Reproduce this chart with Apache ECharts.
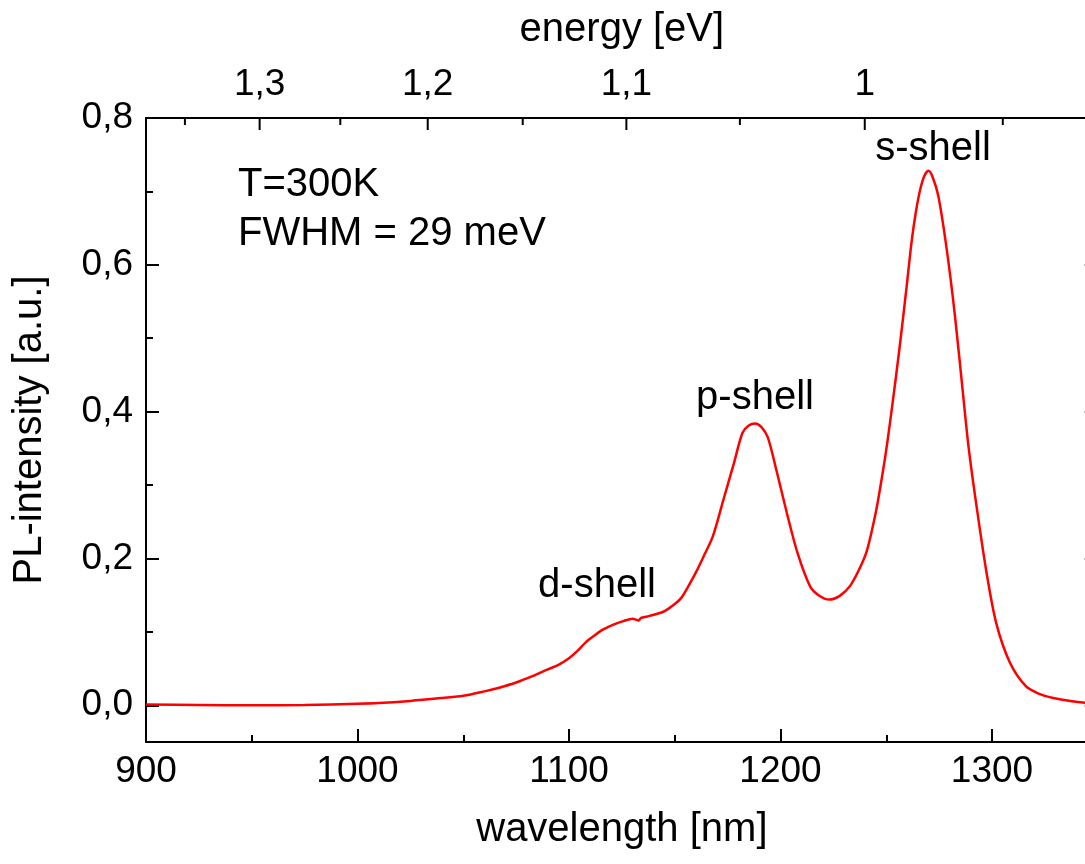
<!DOCTYPE html>
<html>
<head>
<meta charset="utf-8">
<script src="https://cdn.jsdelivr.net/npm/echarts@6/dist/echarts.min.js"></script>
<style>
html,body{margin:0;padding:0;background:#fff;}
#chart{width:1085px;height:864px;}
</style>
</head>
<body>
<div id="chart"></div>
<script>
// ---- data ----
const wavelength = [900, 925, 950, 975, 1000, 1010, 1025, 1040, 1050, 1060, 1067, 1075, 1083, 1090, 1095, 1100, 1104, 1108, 1112, 1116, 1121, 1126, 1130, 1133, 1134, 1137, 1141, 1145, 1150, 1153, 1156, 1160, 1164, 1168, 1173, 1178, 1182, 1185, 1188, 1191, 1194, 1198, 1203, 1208, 1214, 1218, 1223, 1228, 1233, 1238, 1241, 1245, 1247, 1250, 1253, 1256.5, 1259.7, 1262, 1264, 1266, 1268, 1270, 1272, 1274.6, 1278.6, 1282.5, 1286.4, 1289, 1292.7, 1297.4, 1302, 1308.5, 1316, 1322, 1329, 1337, 1345, 1350];
const intensity = [0.001, 0.0005, 0.0, 0.0005, 0.002, 0.003, 0.006, 0.010, 0.013, 0.019, 0.024, 0.031, 0.040, 0.049, 0.055, 0.064, 0.074, 0.086, 0.095, 0.103, 0.110, 0.115, 0.118, 0.1156, 0.119, 0.121, 0.124, 0.128, 0.138, 0.146, 0.160, 0.181, 0.205, 0.230, 0.280, 0.330, 0.371, 0.381, 0.384, 0.379, 0.365, 0.321, 0.262, 0.208, 0.162, 0.150, 0.144, 0.149, 0.163, 0.190, 0.212, 0.262, 0.294, 0.348, 0.412, 0.492, 0.572, 0.632, 0.672, 0.702, 0.721, 0.728, 0.719, 0.694, 0.621, 0.530, 0.421, 0.350, 0.271, 0.181, 0.112, 0.058, 0.026, 0.016, 0.010, 0.006, 0.003, 0.002];

const xMajorTicks = [900, 1000, 1100, 1200, 1300];
const xMinorTicks = [950, 1050, 1150, 1250];
const yMajorTicks = [0, 0.2, 0.4, 0.6, 0.8];
const yMinorTicks = [0.1, 0.3, 0.5, 0.7];
const energyMajor = [1.3, 1.2, 1.1, 1.0];
const energyMajorLabels = ['1,3', '1,2', '1,1', '1'];
const energyMinor = [1.35, 1.25, 1.15, 1.05, 0.95];
const HC = 1239.84; // eV*nm

const annotations = [
  { text: 'T=300K', x: 238, y: 185, align: 'left' },
  { text: 'FWHM = 29 meV', x: 238, y: 234, align: 'left' },
  { text: 's-shell', x: 933, y: 149, align: 'center' },
  { text: 'p-shell', x: 755, y: 398, align: 'center' },
  { text: 'd-shell', x: 597, y: 586, align: 'center' }
];

// ---- chart ----
const FONT = 'Liberation Sans, Arial, sans-serif';
const chart = echarts.init(document.getElementById('chart'));

const energyData = energyMajor.map((e, i) => [HC / e, energyMajorLabels[i], 1])
  .concat(energyMinor.map(e => [HC / e, '', 0]));

const lineStyleAxis = { color: '#000', width: 2 };

chart.setOption({
  animation: false,
  backgroundColor: '#fff',
  grid: { left: 146, top: 118, width: 951.75, height: 624, containLabel: false, outerBoundsMode: 'none' },
  xAxis: [
    {
      type: 'value', position: 'bottom', min: 900, max: 1350,
      axisLine: { show: true, onZero: false, lineStyle: lineStyleAxis },
      axisTick: { show: true, inside: true, length: 13, lineStyle: lineStyleAxis, customValues: xMajorTicks },
      axisLabel: { show: true, margin: 11, color: '#000', fontSize: 37, fontFamily: FONT, customValues: xMajorTicks,
        formatter: v => String(v) },
      splitLine: { show: false },
      name: 'wavelength [nm]', nameLocation: 'middle', nameGap: 68,
      nameTextStyle: { color: '#000', fontSize: 40, fontFamily: FONT }
    },
    {
      type: 'value', position: 'bottom', min: 900, max: 1350,
      axisLine: { show: false, onZero: false },
      axisTick: { show: true, inside: true, length: 7, lineStyle: lineStyleAxis, customValues: xMinorTicks },
      axisLabel: { show: false },
      splitLine: { show: false }
    },
    {
      type: 'value', position: 'top', min: 900, max: 1350,
      axisLine: { show: true, onZero: false, lineStyle: lineStyleAxis },
      axisTick: { show: false },
      axisLabel: { show: false },
      splitLine: { show: false },
      name: 'energy [eV]', nameLocation: 'middle', nameGap: 68,
      nameTextStyle: { color: '#000', fontSize: 40, fontFamily: FONT }
    }
  ],
  yAxis: [
    {
      type: 'value', position: 'left', min: -0.05, max: 0.8,
      axisLine: { show: true, onZero: false, lineStyle: lineStyleAxis },
      axisTick: { show: true, inside: true, length: 13, lineStyle: lineStyleAxis, customValues: yMajorTicks },
      axisLabel: {
        show: true, margin: 13, color: '#000', fontSize: 37, fontFamily: FONT, customValues: yMajorTicks,
        formatter: v => v.toFixed(1).replace('.', ',')
      },
      splitLine: { show: false },
      name: 'PL-intensity [a.u.]', nameLocation: 'middle', nameGap: 96,
      nameTextStyle: { color: '#000', fontSize: 40, fontFamily: FONT }
    },
    {
      type: 'value', position: 'left', min: -0.05, max: 0.8,
      axisLine: { show: false, onZero: false },
      axisTick: { show: true, inside: true, length: 7, lineStyle: lineStyleAxis, customValues: yMinorTicks },
      axisLabel: { show: false },
      splitLine: { show: false }
    },
    {
      type: 'value', position: 'right', min: -0.05, max: 0.8,
      axisLine: { show: true, onZero: false, lineStyle: lineStyleAxis },
      axisTick: { show: true, inside: true, length: 13, lineStyle: lineStyleAxis, customValues: yMajorTicks },
      axisLabel: { show: false },
      splitLine: { show: false }
    }
  ],
  series: [
    {
      type: 'line', xAxisIndex: 0, yAxisIndex: 0,
      data: wavelength.map((w, i) => [w, intensity[i]]),
      showSymbol: false, symbol: 'none', smooth: 0.3,
      lineStyle: { color: '#ff0000', width: 2.5 },
      clip: true
    },
    {
      type: 'custom', xAxisIndex: 2, yAxisIndex: 0, clip: false, silent: true,
      data: energyData,
      renderItem: function (params, api) {
        const x = api.coord([api.value(0), 0.8])[0];
        const top = params.coordSys.y;
        const major = api.value(2) === 1;
        const children = [{
          type: 'line',
          shape: { x1: x, y1: top, x2: x, y2: top + (major ? 12 : 7) },
          style: { stroke: '#000', lineWidth: 2 }
        }];
        if (major) {
          children.push({
            type: 'text',
            style: {
              x: x, y: top - 33, text: energyData[params.dataIndex][1],
              fill: '#000', font: '37px ' + FONT, align: 'center', verticalAlign: 'middle'
            }
          });
        }
        return { type: 'group', children: children };
      }
    }
  ],
  graphic: annotations.map(a => ({
    type: 'text',
    x: a.x, y: a.y, silent: true,
    style: { text: a.text, fill: '#000', font: '40px ' + FONT, align: a.align, verticalAlign: 'middle' }
  }))
});
</script>
</body>
</html>
